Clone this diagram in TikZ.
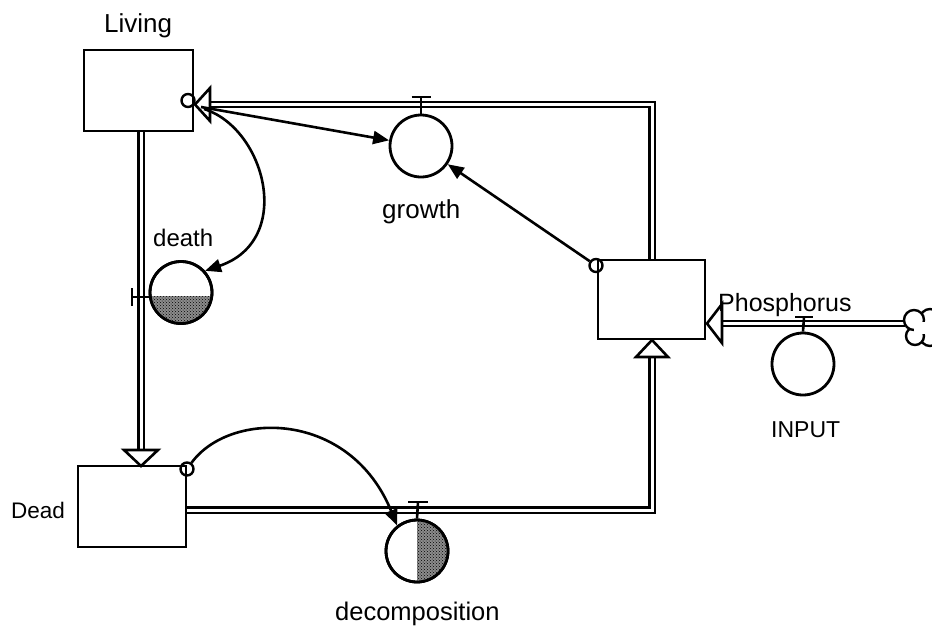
\documentclass[tikz,border=0pt]{standalone}
\usepackage{fontspec}
\setmainfont{Liberation Sans}
\usetikzlibrary{patterns,arrows.meta}
\begin{document}
\begin{tikzpicture}[x=1pt,y=-1pt,
  stock/.style={draw=black, line width=2.8pt, fill=white, inner sep=0pt},
  conv/.style={circle, draw=black, line width=2.8pt, minimum size=62pt, inner sep=0pt},
  pipe/.style={draw=black, line width=2.2pt, double=white, double distance=3pt},
  tip/.style={draw=black, line width=2.6pt, fill=white, line join=miter},
  link/.style={draw=black, line width=2.6pt, -{Triangle[length=16pt,width=13pt]}},
  cc/.style={circle, draw=black, line width=2.4pt, minimum size=13pt, inner sep=0pt},
  tbar/.style={draw=black, line width=2.6pt},
  lab/.style={anchor=base west, inner sep=0pt}
]
\useasboundingbox (0,0) rectangle (932,625);
\fill[white] (0,0) rectangle (932,625);

% pipes
\coordinate (p1a) at (141,131);
\coordinate (p1b) at (141,451);
\draw[pipe] (p1a) -- (p1b);
\coordinate (p2a) at (186,510);
\coordinate (p2c) at (652,510);
\coordinate (p2b) at (652,356);
\draw[pipe] (p2a) -- (p2c) -- (p2b);
\coordinate (p3a) at (652,260);
\coordinate (p3c) at (652,104.5);
\coordinate (p3b) at (209,104.5);
\draw[pipe] (p3a) -- (p3c) -- (p3b);
\coordinate (p4a) at (905,323.5);
\coordinate (p4b) at (721,323.5);
\draw[pipe] (p4a) -- (p4b);

% stocks
\node[stock, minimum width=109pt, minimum height=81pt] (living) at (138.5,90.5) {};
\node[stock, minimum width=108pt, minimum height=81pt] (dead) at (132,506.5) {};
\node[stock, minimum width=107pt, minimum height=79pt] (phos) at (651.5,299.5) {};

% hollow arrowheads of the pipes
\draw[tip] (141,466) -- (124,450) -- (158,450) -- cycle;
\draw[tip] (652,340) -- (636,357) -- (668,357) -- cycle;
\draw[tip] (195,104.5) -- (210,88) -- (210,121) -- cycle;
\draw[tip] (707,323.5) -- (722,304) -- (722,343) -- cycle;

% converters / valves
\node[conv] (growth) at (421,146) {};
\node[conv] (death) at (181,292.5) {};
\node[conv] (decomp) at (417,551) {};
\node[conv] (input) at (803,364) {};

% fills
\begin{scope}
  \clip (death.center) circle[radius=30pt];
  \fill[black!45] (149,296) rectangle (214,326);
  \fill[pattern=crosshatch dots, pattern color=black] (149,296) rectangle (214,326);
\end{scope}
\begin{scope}
  \clip (decomp.center) circle[radius=30pt];
  \fill[black!45] (417,519) rectangle (450,584);
  \fill[pattern=crosshatch dots, pattern color=black] (417,519) rectangle (450,584);
\end{scope}
\node[conv] at (death.center) {};
\node[conv] at (decomp.center) {};

% valve handles
\draw[tbar] (421,97) -- (growth.north);
\draw[tbar] (411.5,97) -- (430.5,97);
\draw[tbar] (132,297) -- (151,297);
\draw[tbar] (132,288) -- (132,306);
\draw[tbar] (418,502) -- (decomp.north);
\draw[tbar] (408,502) -- (428,502);
\draw[tbar] (804,317) -- (input.north);
\draw[tbar] (795,317) -- (813,317);

% cloud
\begin{scope}[line width=2.4pt]
  \draw[fill=white] (930,319) circle[radius=10pt];
  \draw[fill=white] (930,336) circle[radius=10pt];
  \draw[fill=white] (915,336) circle[radius=9pt];
  \draw[fill=white] (914,320) circle[radius=10pt];
  \fill[white] (914,322) rectangle (932,334);
\end{scope}

% connector circles
\node[cc] (lcon) at (188,100.5) {};
\node[cc] (dcon) at (187,469) {};
\node[cc] (pcon) at (596,265.5) {};

% information links
\coordinate (ls) at (201,107);
\draw[link] (ls) -- (growth);
\draw[link] (pcon) -- (growth);
\draw[link] (204,109) .. controls (265,128) and (295,240) .. (death.42);
\draw[link] (dcon) .. controls (230,410) and (350,410) .. (decomp.128);

% labels
\node[lab, font=\fontsize{26}{28}\selectfont] (tliving) at (104,32) {Living};
\node[lab, font=\fontsize{22.5}{24}\selectfont] (tdead) at (11,518) {Dead};
\node[lab, font=\fontsize{24}{26}\selectfont] (tdeath) at (153,246) {death};
\node[lab, font=\fontsize{26}{28}\selectfont] (tgrowth) at (382,218) {growth};
\node[lab, font=\fontsize{25}{27}\selectfont] (tphos) at (718,311) {Phosphorus};
\node[lab, font=\fontsize{23}{25}\selectfont] (tinput) at (771,437) {INPUT};
\node[lab, font=\fontsize{25.5}{27}\selectfont] (tdecomp) at (335,620) {decomposition};
\end{tikzpicture}
\end{document}
